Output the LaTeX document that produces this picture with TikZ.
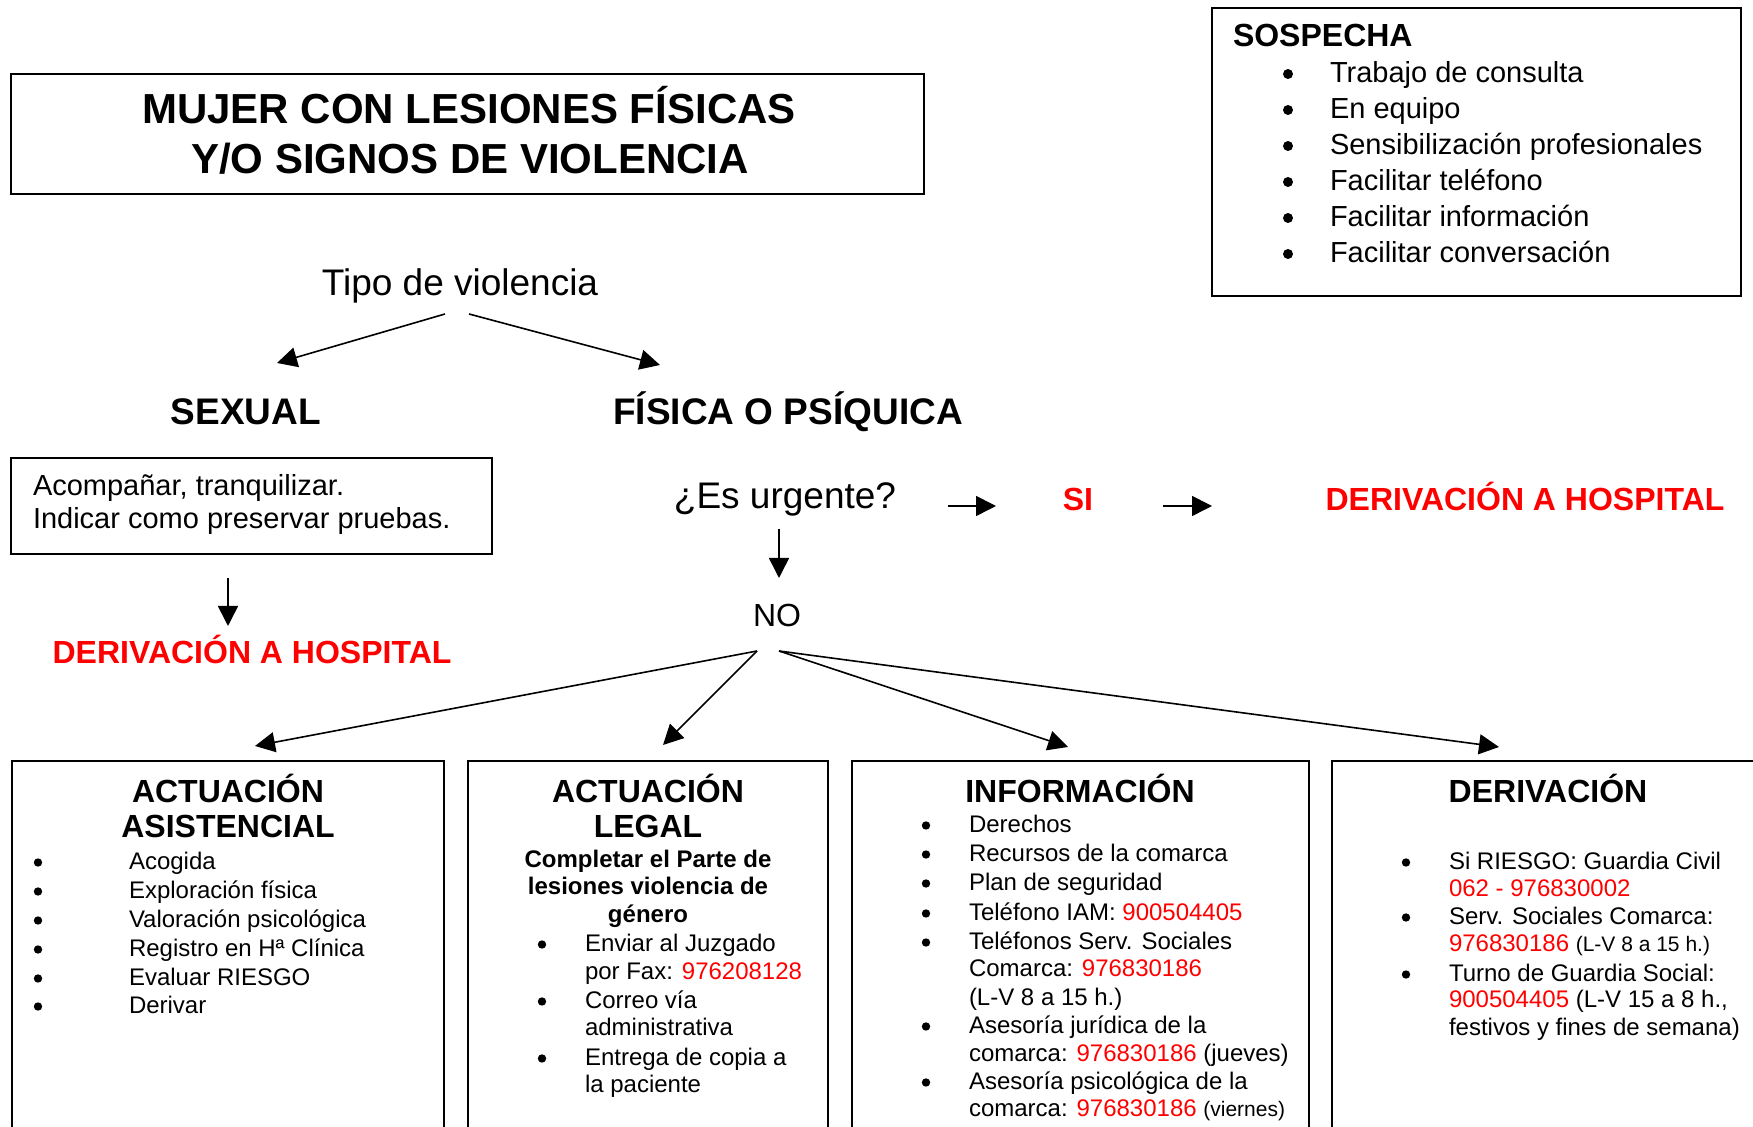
\documentclass[tikz,border=0pt]{standalone}
\usepackage{fontspec}
\setmainfont{Liberation Sans}
\usetikzlibrary{arrows.meta}
\definecolor{rd}{RGB}{255,0,0}
\newcommand\Tx[5]{\node[#1] (#2) at (#3,#4) {#5};}
\newcommand\Bu[3]{\node[dot] (#1) at (#2,#3-7.5) {};}
\newcommand\Bb[3]{\node[dot,minimum size=5pt] (#1) at (#2,#3-9) {};}
\newcommand\R[1]{\textcolor{rd}{#1}}
\newcommand\Sm[1]{{\fontsize{10.5}{12}\selectfont #1}}
\begin{document}
\begin{tikzpicture}[x=0.5pt,y=-0.5pt,
  base/.style={inner sep=0pt,outer sep=0pt},
  L/.style={base,anchor=base west},
  C/.style={base,anchor=base},
  dot/.style={circle,fill=black,draw=none,inner sep=0pt,minimum size=4.2pt},
  s12/.style={font=\fontsize{12}{14}\selectfont},
  s12b/.style={font=\fontsize{12}{14}\selectfont\bfseries},
  s14/.style={font=\fontsize{14.5}{17}\selectfont},
  s16/.style={font=\fontsize{16}{19}\selectfont},
  s16b/.style={font=\fontsize{16}{19}\selectfont\bfseries},
  s18/.style={font=\fontsize{18.5}{22}\selectfont},
  s18b/.style={font=\fontsize{18.5}{22}\selectfont\bfseries},
  s21b/.style={font=\fontsize{21}{25}\selectfont\bfseries},
  rdtext/.style={text=rd},
  box/.style={draw,line width=1pt},
  arr/.style={-{Triangle[length=10pt,width=10pt]},line width=0.8pt}]
\useasboundingbox (0,0) rectangle (1753,1127);

% ---------- title ----------
\draw[box] (11,74) rectangle (924,194);
\Tx{C,s21b}{t1}{469}{124}{MUJER CON LESIONES FÍSICAS}
\Tx{C,s21b}{t2}{470}{174}{Y/O SIGNOS DE VIOLENCIA}

% ---------- sospecha ----------
\draw[box] (1212,8) rectangle (1741,296);
\Tx{L,s16b}{sosp}{1233}{47}{SOSPECHA}
\Bb{sb1}{1288}{83}  \Tx{L,s14}{si1}{1330}{83}{Trabajo de consulta}
\Bb{sb2}{1288}{119} \Tx{L,s14}{si2}{1330}{119}{En equipo}
\Bb{sb3}{1288}{155} \Tx{L,s14}{si3}{1330}{155}{Sensibilización profesionales}
\Bb{sb4}{1288}{191} \Tx{L,s14}{si4}{1330}{191}{Facilitar teléfono}
\Bb{sb5}{1288}{227} \Tx{L,s14}{si5}{1330}{227}{Facilitar información}
\Bb{sb6}{1288}{263} \Tx{L,s14}{si6}{1330}{263}{Facilitar conversación}

% ---------- tipo ----------
\Tx{C,s18}{tipo}{460}{296}{Tipo de violencia}
\Tx{C,s18b}{sexual}{246}{425}{SEXUAL}
\Tx{C,s18b}{fisica}{788}{425}{FÍSICA O PSÍQUICA}
\coordinate (tipoL) at (445,314);
\coordinate (tipoR) at (469,314);
\coordinate (sexT) at (277,363);
\coordinate (fisT) at (660,365);
\draw[arr] (tipoL) -- (sexT);
\draw[arr] (tipoR) -- (fisT);

% ---------- sexual branch ----------
\draw[box] (11,458) rectangle (492,554);
\Tx{L,s14}{ac1}{33}{496}{Acompañar, tranquilizar.}
\Tx{L,s14}{ac2}{33}{529}{Indicar como preservar pruebas.}
\coordinate (acB) at (228,578);
\coordinate (derLT) at (228,626);
\draw[arr] (acB) -- (derLT);
\Tx{C,s16b,rdtext}{derL}{252}{664}{DERIVACIÓN A HOSPITAL}

% ---------- urgente ----------
\Tx{C,s18}{urg}{785}{509}{¿Es urgente?}
\coordinate (urgR) at (948,506);
\coordinate (siL) at (996,506);
\draw[arr] (urgR) -- (siL);
\Tx{C,s16b,rdtext}{si}{1078}{511}{SI}
\coordinate (siR) at (1163,506);
\coordinate (derRL) at (1212,506);
\draw[arr] (siR) -- (derRL);
\Tx{C,s16b,rdtext}{derR}{1525}{511}{DERIVACIÓN A HOSPITAL}
\coordinate (urgB) at (779,529);
\coordinate (noT) at (779,578);
\draw[arr] (urgB) -- (noT);
\Tx{C,s16}{no}{777}{627}{NO}

% ---------- arrows from NO ----------
\coordinate (noBL) at (757,651);
\coordinate (noBR) at (779,651);
\coordinate (a1) at (255,746);
\coordinate (a2) at (663,745);
\coordinate (a3) at (1068,747);
\coordinate (a4) at (1499,747);
\draw[arr] (noBL) -- (a1);
\draw[arr] (noBL) -- (a2);
\draw[arr] (noBR) -- (a3);
\draw[arr] (noBR) -- (a4);

% ---------- bottom boxes ----------
\draw[box] (12,1130) -- (12,761) -- (444,761) -- (444,1130);
\draw[box] (468,1130) -- (468,761) -- (828,761) -- (828,1130);
\draw[box] (852,1130) -- (852,761) -- (1309,761) -- (1309,1130);
\draw[box] (1332,1130) -- (1332,761) -- (1765,761);

% box 1
\Tx{C,s16b}{h1a}{228}{803}{ACTUACIÓN}
\Tx{C,s16b}{h1b}{228}{838}{ASISTENCIAL}
\Bu{b1a}{38}{870}  \Tx{L,s12}{i1a}{129}{870}{Acogida}
\Bu{b1b}{38}{899}  \Tx{L,s12}{i1b}{129}{899}{Exploración física}
\Bu{b1c}{38}{928}  \Tx{L,s12}{i1c}{129}{928}{Valoración psicológica}
\Bu{b1d}{38}{957}  \Tx{L,s12}{i1d}{129}{957}{Registro en Hª Clínica}
\Bu{b1e}{38}{986}  \Tx{L,s12}{i1e}{129}{986}{Evaluar RIESGO}
\Bu{b1f}{38}{1014} \Tx{L,s12}{i1f}{129}{1014}{Derivar}

% box 2
\Tx{C,s16b}{h2a}{648}{803}{ACTUACIÓN}
\Tx{C,s16b}{h2b}{648}{838}{LEGAL}
\Tx{C,s12b}{c2a}{648}{868}{Completar el Parte de}
\Tx{C,s12b}{c2b}{648}{895}{lesiones violencia de}
\Tx{C,s12b}{c2c}{648}{923}{género}
\Bu{b2a}{542}{952}
\Bu{b2b}{542}{1009}
\Bu{b2c}{542}{1066}
\Tx{L,s12}{i2a}{585}{952}{Enviar al Juzgado}
\Tx{L,s12}{i2b}{585}{980}{por Fax: \R{976208128}}
\Tx{L,s12}{i2c}{585}{1009}{Correo vía}
\Tx{L,s12}{i2d}{585}{1036}{administrativa}
\Tx{L,s12}{i2e}{585}{1066}{Entrega de copia a}
\Tx{L,s12}{i2f}{585}{1093}{la paciente}

% box 3
\Tx{C,s16b}{h3}{1080}{803}{INFORMACIÓN}
\Bu{b3a}{926}{833}
\Bu{b3b}{926}{862}
\Bu{b3c}{926}{891}
\Bu{b3d}{926}{921}
\Bu{b3e}{926}{950}
\Bu{b3f}{926}{1034}
\Bu{b3g}{926}{1090}
\Tx{L,s12}{i3a}{969}{833}{Derechos}
\Tx{L,s12}{i3b}{969}{862}{Recursos de la comarca}
\Tx{L,s12}{i3c}{969}{891}{Plan de seguridad}
\Tx{L,s12}{i3d}{969}{921}{Teléfono IAM: \R{900504405}}
\Tx{L,s12}{i3e}{969}{950}{Teléfonos Serv. Sociales}
\Tx{L,s12}{i3f}{969}{977}{Comarca: \R{976830186}}
\Tx{L,s12}{i3g}{969}{1006}{(L-V 8 a 15 h.)}
\Tx{L,s12}{i3h}{969}{1034}{Asesoría jurídica de la}
\Tx{L,s12}{i3i}{969}{1062}{comarca: \R{976830186} (jueves)}
\Tx{L,s12}{i3j}{969}{1090}{Asesoría psicológica de la}
\Tx{L,s12}{i3k}{969}{1117}{comarca: \R{976830186} \Sm{(viernes)}}

% box 4
\Tx{C,s16b}{h4}{1548}{803}{DERIVACIÓN}
\Bu{b4a}{1406}{870}
\Bu{b4b}{1406}{925}
\Bu{b4c}{1406}{982}
\Tx{L,s12}{i4a}{1449}{870}{Si RIESGO: Guardia Civil}
\Tx{L,s12}{i4b}{1449}{897}{\R{062 - 976830002}}
\Tx{L,s12}{i4c}{1449}{925}{Serv. Sociales Comarca:}
\Tx{L,s12}{i4d}{1449}{952}{\R{976830186} \Sm{(L-V 8 a 15 h.)}}
\Tx{L,s12}{i4e}{1449}{982}{Turno de Guardia Social:}
\Tx{L,s12}{i4f}{1449}{1008}{\R{900504405} (L-V 15 a 8 h.,}
\Tx{L,s12}{i4g}{1449}{1036}{festivos y fines de semana)}
\end{tikzpicture}
\end{document}
